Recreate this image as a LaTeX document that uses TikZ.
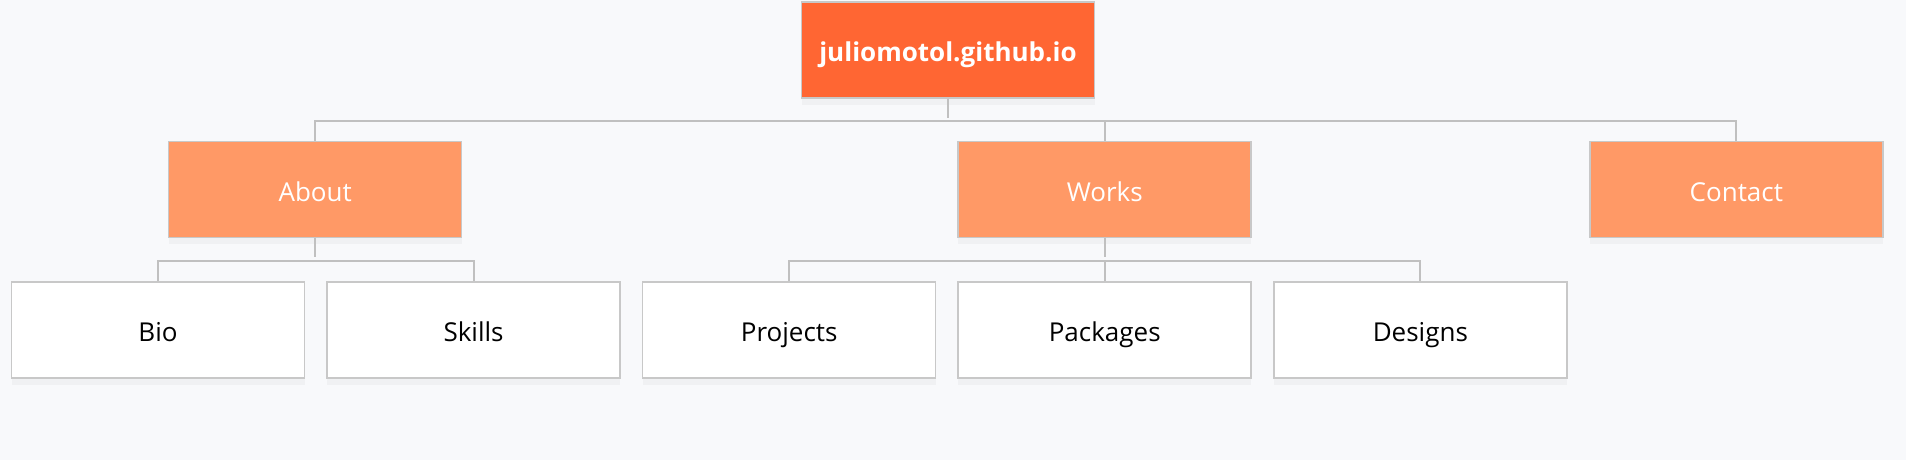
\documentclass[tikz,border=0pt]{standalone}
\usepackage{fontspec}
\setmainfont{Open Sans}
\usepackage{tikz}
\usetikzlibrary{positioning, shadows}

\definecolor{bgcol}{HTML}{F8F9FB}
\definecolor{rootcol}{HTML}{FF6633}
\definecolor{sectcol}{HTML}{FF9966}
\definecolor{edgecol}{HTML}{C8C8C8}
\definecolor{linkcol}{HTML}{C0C0C0}

\tikzset{
  box/.style={draw=edgecol, line width=0.45pt, minimum width=2.93cm, minimum height=0.96cm,
    inner sep=0pt, text height=6.8pt, text depth=0pt, font=\fontsize{7.4}{9}\selectfont,
    drop shadow={opacity=0.06, shadow xshift=0pt, shadow yshift=-2pt}},
  rootbox/.style={box, fill=rootcol, text=white, font=\fontsize{7.4}{9}\selectfont\bfseries},
  sectbox/.style={box, fill=sectcol, text=white},
  pagebox/.style={box, fill=white, text=black},
  link/.style={draw=linkcol, line width=0.55pt}
}

\begin{document}
\begin{tikzpicture}[node distance=0.21cm]
\fill[bgcol] (0,0) rectangle (19.06,-4.6);
\useasboundingbox (0,0) rectangle (19.06,-4.6);

\node[rootbox] (root) at (9.48,-0.50) {juliomotol.github.io};

\node[pagebox] (bio) at (1.58,-3.30) {Bio};
\node[pagebox] (skills) [right=of bio] {Skills};
\node[pagebox] (projects) [right=of skills] {Projects};
\node[pagebox] (packages) [right=of projects] {Packages};
\node[pagebox] (designs) [right=of packages] {Designs};

\node[sectbox] (works) [above=0.43cm of packages] {Works};
\node[sectbox] (about) [left=4.95cm of works] {About};
\node[sectbox] (contact) [right=3.37cm of works] {Contact};

\coordinate (bus) at (0,-1.21);
\coordinate (busabout) at (0,-2.61);

\path[link] (root.south) edge ++(0,-0.19);
\draw[link] (about.north) -- (about.north |- bus) -- (contact.north |- bus) -- (contact.north);
\draw[link] (works.north) -- (works.north |- bus);

\path[link] (about.south) edge ++(0,-0.19);
\draw[link] (bio.north) -- (bio.north |- busabout) -- (skills.north |- busabout) -- (skills.north);

\path[link] (works.south) edge ++(0,-0.19);
\draw[link] (projects.north) -- (projects.north |- busabout) -- (designs.north |- busabout) -- (designs.north);
\draw[link] (packages.north) -- (packages.north |- busabout);
\end{tikzpicture}
\end{document}
